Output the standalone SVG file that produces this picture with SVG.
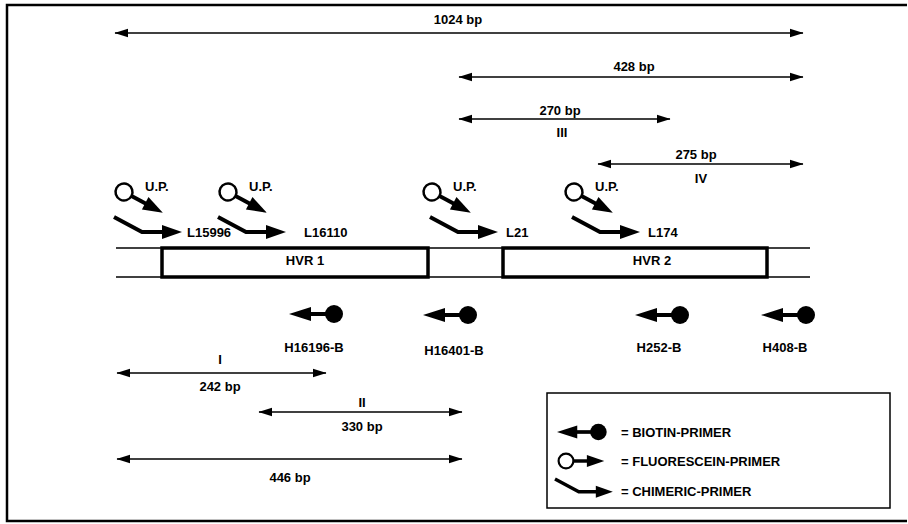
<svg xmlns="http://www.w3.org/2000/svg" xmlns:xlink="http://www.w3.org/1999/xlink" width="908" height="524" viewBox="0 0 908 524">
<style>
text{font-family:"Liberation Sans",Arial,Helvetica,sans-serif;font-weight:bold;font-size:13px;fill:#000}
.c{text-anchor:middle}
.dim{stroke:#000;stroke-width:1.3;fill:none;marker-start:url(#ah);marker-end:url(#ah)}
.thin{stroke:#000;stroke-width:1.5;fill:none}
.box{stroke:#000;stroke-width:3.5;fill:#fff}
</style>
<defs>
<marker id="ah" markerUnits="userSpaceOnUse" markerWidth="14" markerHeight="10" viewBox="0 0 13 8" refX="12.5" refY="4" orient="auto-start-reverse">
<path d="M0,0 L13,4 L0,8 z" fill="#000"/>
</marker>
<g id="fluor">
<circle cx="0" cy="0" r="8.5" fill="#fff" stroke="#000" stroke-width="2.5"/>
<line x1="8" y1="0" x2="26" y2="0" stroke="#000" stroke-width="4"/>
<polygon points="24,-7 44,0 24,7" fill="#000"/>
</g>
<g id="chim">
<polyline points="0,0 28,15 50,15" fill="none" stroke="#000" stroke-width="4" stroke-linejoin="miter"/>
<polygon points="48,8 68,15 48,22" fill="#000"/>
</g>
<g id="biot">
<polygon points="0,0 22,-7 22,7" fill="#000"/>
<line x1="20" y1="0" x2="40" y2="0" stroke="#000" stroke-width="4"/>
<circle cx="45" cy="0" r="9" fill="#000"/>
</g>
</defs>
<rect width="908" height="524" fill="#fff"/>
<path d="M907,5 H7 V521 H907" fill="none" stroke="#000" stroke-width="2.5"/>

<g id="connectors">
<line class="dim" x1="115" y1="33" x2="803" y2="33"/>
<line class="dim" x1="459" y1="77" x2="803" y2="77"/>
<line class="dim" x1="459" y1="119" x2="670" y2="119"/>
<line class="dim" x1="598" y1="164" x2="803" y2="164"/>
<line class="dim" x1="117" y1="373" x2="326" y2="373"/>
<line class="dim" x1="259" y1="412" x2="462" y2="412"/>
<line class="dim" x1="117" y1="459" x2="462" y2="459"/>
</g>

<g id="labels-dim">
<text class="c" x="458" y="24">1024 bp</text>
<text class="c" x="634" y="71">428 bp</text>
<text class="c" x="560" y="115">270 bp</text>
<text class="c" x="562" y="137">III</text>
<text class="c" x="696" y="159">275 bp</text>
<text class="c" x="701" y="183">IV</text>
<text class="c" x="220" y="364">I</text>
<text class="c" x="220" y="391">242 bp</text>
<text class="c" x="362" y="407">II</text>
<text class="c" x="362" y="431">330 bp</text>
<text class="c" x="290" y="482">446 bp</text>
</g>

<g id="dna">
<line class="thin" x1="116" y1="248" x2="810" y2="248"/>
<line class="thin" x1="116" y1="277" x2="810" y2="277"/>
<g id="hvr1">
<rect class="box" x="162" y="248" width="266" height="29"/>
<text class="c" x="305" y="265">HVR 1</text>
</g>
<g id="hvr2">
<rect class="box" x="503" y="248" width="264" height="29"/>
<text class="c" x="652" y="265">HVR 2</text>
</g>
</g>

<g id="primer-L15996">
<use xlink:href="#fluor" transform="translate(124,192) rotate(28)"/>
<text x="145" y="191">U.P.</text>
<use xlink:href="#chim" transform="translate(114,217)"/>
<text x="187" y="237">L15996</text>
</g>
<g id="primer-L16110">
<use xlink:href="#fluor" transform="translate(228,192) rotate(28)"/>
<text x="249" y="191">U.P.</text>
<use xlink:href="#chim" transform="translate(218,217)"/>
<text x="304" y="237">L16110</text>
</g>
<g id="primer-L21">
<use xlink:href="#fluor" transform="translate(432,192) rotate(28)"/>
<text x="453" y="191">U.P.</text>
<use xlink:href="#chim" transform="translate(430,217)"/>
<text x="506" y="237">L21</text>
</g>
<g id="primer-L174">
<use xlink:href="#fluor" transform="translate(574,192) rotate(28)"/>
<text x="595" y="191">U.P.</text>
<use xlink:href="#chim" transform="translate(572,217)"/>
<text x="648" y="237">L174</text>
</g>

<g id="primer-H16196-B">
<use xlink:href="#biot" transform="translate(289,314)"/>
<text class="c" x="314" y="352">H16196-B</text>
</g>
<g id="primer-H16401-B">
<use xlink:href="#biot" transform="translate(423,315)"/>
<text class="c" x="454" y="355">H16401-B</text>
</g>
<g id="primer-H252-B">
<use xlink:href="#biot" transform="translate(635,315)"/>
<text class="c" x="659" y="352">H252-B</text>
</g>
<g id="primer-H408-B">
<use xlink:href="#biot" transform="translate(761,315)"/>
<text class="c" x="785" y="352">H408-B</text>
</g>

<g id="legend">
<rect x="547" y="393" width="343" height="115" fill="#fff" stroke="#000" stroke-width="1.5"/>
<use xlink:href="#biot" transform="translate(557,432) scale(0.92)"/>
<text x="621" y="437">= BIOTIN-PRIMER</text>
<use xlink:href="#fluor" transform="translate(566,461) scale(0.87)"/>
<text x="621" y="466">= FLUORESCEIN-PRIMER</text>
<use xlink:href="#chim" transform="translate(555,479) scale(0.85)"/>
<text x="621" y="496">= CHIMERIC-PRIMER</text>
</g>
</svg>
